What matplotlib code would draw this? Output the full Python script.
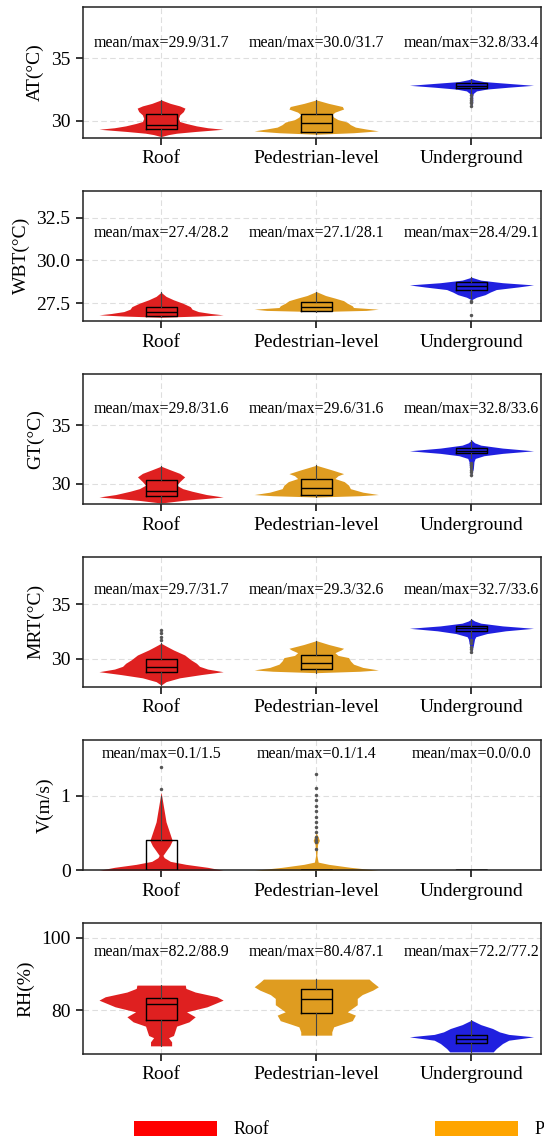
import matplotlib
matplotlib.use("Agg")
import matplotlib.pyplot as plt
from matplotlib.patches import Patch
from matplotlib.ticker import FormatStrFormatter

plt.rcParams['font.family'] = ['Liberation Serif', 'DejaVu Serif']

groups = ["Roof", "Pedestrian-level", "Underground"]
legend_colors = ["#ff0000", "#ffa500", "#0000ff"]
# seaborn-like desaturated fill of the violins
violin_colors = ["#df2020", "#df9c20", "#2020df"]

# violin outlines: value levels and relative half width
at_y = [[28.74, 28.9, 29.01, 29.15, 29.33, 29.45, 29.6, 29.8, 29.95, 30.2, 30.48, 30.75, 31.02, 31.2, 31.4, 31.68],
        [28.93, 29.05, 29.2, 29.35, 29.5, 29.7, 29.9, 30.1, 30.3, 30.5, 30.7, 30.95, 31.15, 31.4, 31.68],
        [31.1, 31.5, 32.0, 32.2, 32.4, 32.55, 32.7, 32.85, 33.0, 33.15, 33.3, 33.38]]
at_w = [[0, 0.12, 0.25, 0.55, 1.0, 0.75, 0.57, 0.4, 0.3, 0.28, 0.3, 0.36, 0.385, 0.3, 0.15, 0],
        [0, 0.6, 1.0, 0.8, 0.63, 0.55, 0.5, 0.35, 0.28, 0.25, 0.3, 0.44, 0.42, 0.2, 0],
        [0, 0.02, 0.02, 0.03, 0.08, 0.25, 0.6, 1.0, 0.6, 0.2, 0.05, 0]]
# q1, median, q3, lower whisker, upper whisker
at_box = [(29.33, 29.68, 30.54, 28.74, 31.68),
          (29.14, 29.81, 30.54, 28.93, 31.68),
          (32.62, 32.83, 33.02, 32.2, 33.38)]
at_out = [[], [], [32.05, 31.85, 31.7, 31.55, 31.4, 31.2]]
at_mean = [29.9, 30.0, 32.8]
at_max = [31.7, 31.7, 33.4]

wbt_y = [[26.68, 26.75, 26.82, 26.9, 27.01, 27.15, 27.3, 27.5, 27.7, 27.9, 28.14],
         [27.01, 27.08, 27.15, 27.25, 27.35, 27.5, 27.65, 27.8, 27.95, 28.18],
         [27.7, 27.85, 28.0, 28.15, 28.3, 28.45, 28.57, 28.7, 28.85, 29.02]]
wbt_w = [[0, 0.6, 1.0, 0.8, 0.6, 0.5, 0.47, 0.35, 0.2, 0.08, 0],
         [0, 0.8, 1.0, 0.6, 0.58, 0.5, 0.44, 0.3, 0.15, 0],
         [0, 0.08, 0.22, 0.3, 0.4, 0.75, 1.0, 0.5, 0.15, 0]]
wbt_box = [(26.76, 26.99, 27.27, 26.68, 28.14),
           (27.07, 27.30, 27.56, 27.01, 28.18),
           (28.28, 28.51, 28.73, 27.8, 29.02)]
wbt_out = [[], [], [27.65, 27.55, 26.82]]
wbt_mean = [27.4, 27.1, 28.4]
wbt_max = [28.2, 28.1, 29.1]

gt_y = [[28.38, 28.6, 28.89, 29.1, 29.38, 29.6, 29.89, 30.2, 30.6, 30.9, 31.2, 31.51],
        [28.89, 29.0, 29.1, 29.3, 29.6, 29.9, 30.2, 30.46, 30.7, 30.88, 31.2, 31.59],
        [30.74, 31.3, 31.9, 32.17, 32.4, 32.6, 32.82, 33.05, 33.3, 33.5, 33.73]]
gt_w = [[0, 0.35, 1.0, 0.73, 0.5, 0.35, 0.25, 0.3, 0.38, 0.3, 0.15, 0],
        [0, 0.7, 1.0, 0.75, 0.55, 0.52, 0.45, 0.3, 0.35, 0.44, 0.25, 0],
        [0, 0.03, 0.04, 0.06, 0.2, 0.5, 1.0, 0.5, 0.15, 0.05, 0]]
gt_box = [(28.95, 29.38, 30.32, 28.38, 31.51),
          (29.04, 29.66, 30.46, 28.89, 31.59),
          (32.59, 32.82, 33.07, 32.17, 33.73)]
gt_out = [[], [], [31.8, 31.6, 31.4, 31.2, 31.0, 30.8]]
gt_mean = [29.8, 29.6, 32.8]
gt_max = [31.6, 31.6, 33.6]

mrt_y = [[27.59, 27.9, 28.25, 28.55, 28.81, 29.05, 29.3, 29.58, 29.9, 30.34, 30.8, 31.1, 31.41],
         [28.72, 28.85, 28.97, 29.2, 29.5, 29.8, 30.1, 30.3, 30.55, 30.8, 30.95, 31.3, 31.65],
         [30.49, 31.2, 31.8, 32.01, 32.3, 32.55, 32.78, 33.0, 33.25, 33.45, 33.63]]
mrt_w = [[0, 0.08, 0.3, 0.65, 1.0, 0.75, 0.62, 0.57, 0.48, 0.38, 0.2, 0.1, 0],
         [0, 0.7, 1.0, 0.75, 0.6, 0.55, 0.52, 0.35, 0.3, 0.4, 0.44, 0.2, 0],
         [0, 0.03, 0.05, 0.07, 0.25, 0.55, 1.0, 0.5, 0.15, 0.05, 0]]
mrt_box = [(28.75, 29.21, 29.97, 27.59, 31.41),
           (29.03, 29.58, 30.34, 28.72, 31.65),
           (32.56, 32.80, 33.02, 32.0, 33.63)]
mrt_out = [[31.71, 32.02, 32.32, 32.63], [], [31.7, 31.4, 31.1, 30.9, 30.6]]
mrt_mean = [29.7, 29.3, 32.7]
mrt_max = [31.7, 32.6, 33.6]

v_y = [[0, 0.04, 0.08, 0.12, 0.17, 0.2, 0.26, 0.33, 0.4, 0.5, 0.65, 0.8, 0.95, 1.05],
       [0, 0.04, 0.08, 0.11, 0.2, 0.35, 0.4, 0.45, 0.5],
       []]
v_w = [[1.0, 0.75, 0.4, 0.15, 0.05, 0.03, 0.08, 0.14, 0.18, 0.14, 0.08, 0.05, 0.02, 0],
       [1.0, 0.55, 0.2, 0.03, 0.01, 0.02, 0.05, 0.03, 0],
       []]
v_box = [(0, 0, 0.404, 0, 1.0),
         (0, 0, 0, 0, 0),
         (0, 0, 0, 0, 0)]
v_out = [[1.09, 1.39],
         [0.29, 0.38, 0.41, 0.45, 0.52, 0.58, 0.65, 0.72, 0.80, 0.87, 0.94, 1.01, 1.10, 1.30],
         []]
v_mean = [0.1, 0.1, 0.0]
v_max = [1.5, 1.4, 0.0]

rh_y = [[70.14, 71.24, 72.4, 73.0, 74.0, 75.58, 76.77, 78.16, 79.54, 80.92, 82.76, 83.69, 85.0, 86.0, 86.91],
        [73.09, 74.0, 75.39, 76.2, 77.1, 78.62, 79.54, 81.5, 83.23, 84.3, 85.53, 86.45, 87.8, 88.57],
        [68.47, 69.4, 70.78, 71.7, 72.63, 73.3, 74.0, 74.93, 76.0, 77.24]]
rh_w = [[0.17, 0.17, 0.12, 0.2, 0.22, 0.25, 0.45, 0.55, 0.41, 0.74, 1.0, 0.9, 0.55, 0.4, 0.39],
        [0.25, 0.25, 0.28, 0.42, 0.58, 0.63, 0.5, 0.66, 0.66, 0.74, 0.91, 1.0, 0.9, 0.85],
        [0.35, 0.4, 0.5, 0.6, 1.0, 0.6, 0.45, 0.34, 0.15, 0]]
rh_box = [(77.24, 81.56, 83.40, 70.14, 86.91),
          (79.08, 83.04, 85.72, 73.09, 88.57),
          (70.96, 72.06, 73.27, 68.47, 77.24)]
rh_out = [[], [], []]
rh_mean = [82.2, 80.4, 72.2]
rh_max = [88.9, 87.1, 77.2]

# label, data, y limits, y ticks, height of the mean/max text
panels = [
    ("AT(°C)", at_y, at_w, at_box, at_out, at_mean, at_max, (28.66, 39.1), [30, 35], 36.2, None),
    ("WBT(°C)", wbt_y, wbt_w, wbt_box, wbt_out, wbt_mean, wbt_max, (26.46, 34.08), [27.5, 30.0, 32.5], 31.59, '%.1f'),
    ("GT(°C)", gt_y, gt_w, gt_box, gt_out, gt_mean, gt_max, (28.27, 39.35), [30, 35], 36.39, None),
    ("MRT(°C)", mrt_y, mrt_w, mrt_box, mrt_out, mrt_mean, mrt_max, (27.41, 39.33), [30, 35], 36.28, None),
    ("V(m/s)", v_y, v_w, v_box, v_out, v_mean, v_max, (0, 1.75), [0, 1], 1.557, None),
    ("RH(%)", rh_y, rh_w, rh_box, rh_out, rh_mean, rh_max, (68.0, 103.98), [80, 100], 95.96, None),
]

W, H = 544, 1139
fig = plt.figure(figsize=(W / 100, H / 100), dpi=100)
tops = [7.3, 190.7, 374, 556.7, 740, 923.3]
ph = 130.3

for top, (lab, ys, ws, boxes, outs, means, maxs, ylim, yt, ty, fmt) in zip(tops, panels):
    ax = fig.add_axes([83 / W, 1 - (top + ph) / H, 458 / W, ph / H])
    pos = list(range(len(groups)))
    for i in pos:
        if len(ys[i]) == 0:
            continue
        half = [0.4 * w for w in ws[i]]
        ax.fill_betweenx(ys[i], [i - h for h in half], [i + h for h in half],
                         color=violin_colors[i], lw=0, zorder=2)
    stats = []
    for (q1, med, q3, lo, hi), fl in zip(boxes, outs):
        stats.append(dict(q1=q1, med=med, q3=q3, whislo=lo, whishi=hi, fliers=fl))
    ax.bxp(stats, positions=pos, widths=0.2, showcaps=False, showfliers=True,
           manage_ticks=False,
           boxprops=dict(color='black', lw=1.0, zorder=3),
           medianprops=dict(color='black', lw=1.0, zorder=3),
           whiskerprops=dict(color='#444444', lw=0.8, zorder=3),
           flierprops=dict(marker='o', markersize=2.5, markerfacecolor='#555555',
                           markeredgecolor='none', zorder=3))
    for i in pos:
        ax.text(i, ty, "mean/max=%.1f/%.1f" % (means[i], maxs[i]),
                ha='center', va='center', fontsize=11.5)
    ax.set_xlim(-0.503, 2.448)
    ax.set_ylim(*ylim)
    ax.set_yticks(yt)
    if fmt:
        ax.yaxis.set_major_formatter(FormatStrFormatter(fmt))
    ax.set_xticks(pos)
    ax.set_xticklabels(groups)
    ax.set_ylabel(lab, fontsize=14, labelpad=5)
    ax.tick_params(direction='out', length=5, width=1.1, labelsize=14, pad=4)
    ax.grid(True, ls=(0, (5, 3)), color='#dedede', lw=0.8)
    ax.set_axisbelow(True)
    for s in ax.spines.values():
        s.set_linewidth(1.1)
        s.set_color('#222222')

handles = [Patch(facecolor=c, edgecolor='none') for c in legend_colors]
fig.legend(handles, groups, ncol=3, frameon=False, loc='center left',
           bbox_to_anchor=(134 / W, 1 - 1129.5 / H), borderaxespad=0, borderpad=0,
           fontsize=13, handlelength=4.6, handleheight=0.95, handletextpad=0.9,
           columnspacing=9.2)

fig.savefig("out.png", dpi=100)
